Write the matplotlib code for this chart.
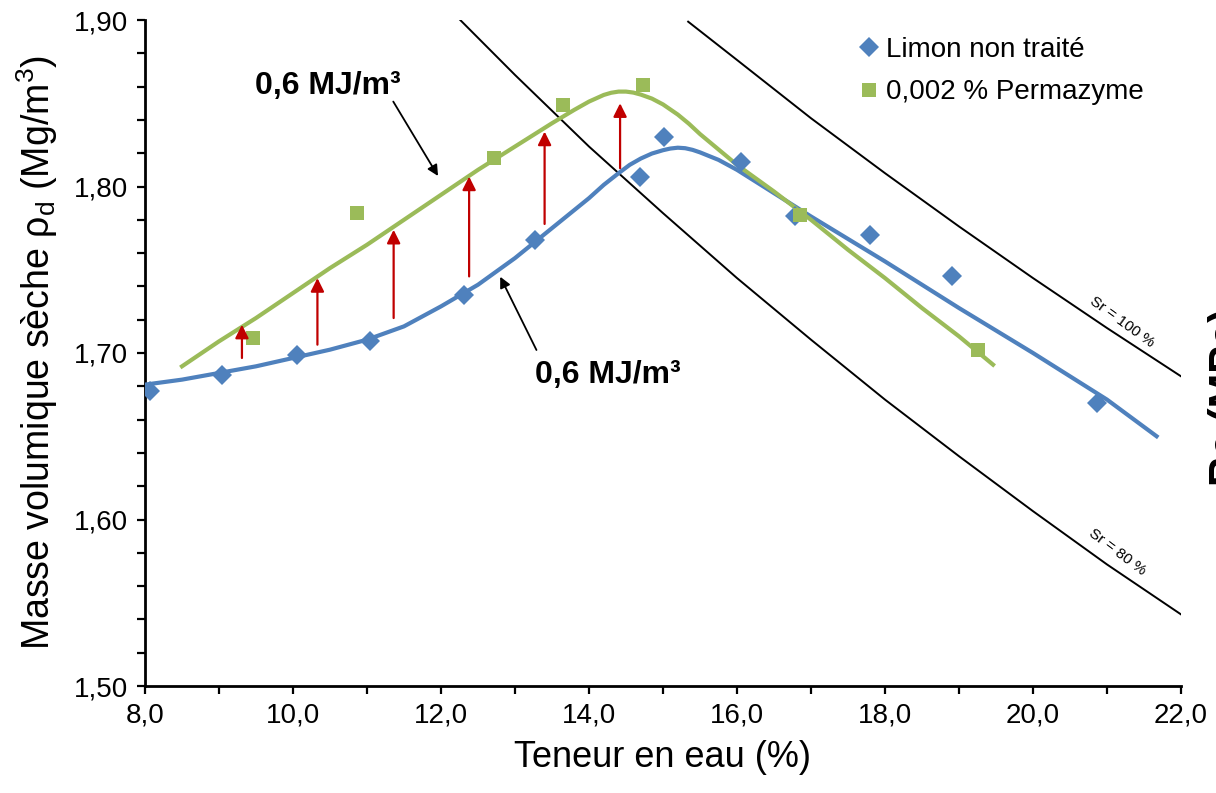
import matplotlib
matplotlib.use("Agg")
import matplotlib.pyplot as plt
from matplotlib.ticker import MultipleLocator

plt.rcParams["font.family"] = ["Liberation Sans", "DejaVu Sans"]

# measured points
w_limon = [8.07, 9.04, 10.05, 11.04, 12.31, 13.27, 14.69, 15.01, 16.06, 16.78, 17.80, 18.91, 20.87]
rho_limon = [1.677, 1.687, 1.699, 1.707, 1.735, 1.768, 1.806, 1.830, 1.815, 1.782, 1.771, 1.746, 1.670]
w_perma = [9.46, 10.87, 12.72, 13.65, 14.73, 16.85, 19.26]
rho_perma = [1.709, 1.784, 1.817, 1.849, 1.861, 1.783, 1.702]

# fitted curves
w_fit_limon = [8.0, 8.5, 9.0, 9.5, 10.0, 10.5, 11.0, 11.5, 12.0, 12.5, 13.0, 13.5, 14.0,
               14.2, 14.4, 14.55, 14.7, 14.85, 15.0, 15.1, 15.2, 15.3, 15.4, 15.5, 15.75,
               16.0, 16.5, 17.0, 18.0, 19.0, 20.0, 21.0, 21.67]
rho_fit_limon = [1.681, 1.684, 1.688, 1.692, 1.697, 1.702, 1.708, 1.716, 1.728, 1.741, 1.757,
                 1.775, 1.793, 1.801, 1.808, 1.813, 1.8168, 1.8198, 1.8218, 1.8228, 1.8233,
                 1.8230, 1.8220, 1.8205, 1.8160, 1.810, 1.796, 1.782, 1.755, 1.727, 1.700,
                 1.672, 1.650]
w_fit_perma = [8.5, 9.0, 9.5, 10.0, 10.5, 11.0, 11.5, 12.0, 12.5, 13.0, 13.5, 13.8, 14.0,
               14.1, 14.2, 14.3, 14.4, 14.5, 14.6, 14.7, 14.85, 15.0, 15.2, 15.35, 15.5,
               16.0, 16.5, 17.0, 17.5, 18.0, 18.5, 19.0, 19.46]
rho_fit_perma = [1.692, 1.707, 1.721, 1.736, 1.751, 1.765, 1.780, 1.795, 1.810, 1.824, 1.838,
                 1.846, 1.851, 1.853, 1.855, 1.8563, 1.8570, 1.8570, 1.8564, 1.8552, 1.8528,
                 1.8493, 1.8432, 1.8377, 1.8315, 1.813, 1.797, 1.780, 1.762, 1.745, 1.727,
                 1.710, 1.693]

# saturation lines
w_sr100 = [15.34, 16.0, 17.0, 18.0, 19.0, 20.0, 21.0, 22.0]
rho_sr100 = [1.899, 1.876, 1.841, 1.808, 1.776, 1.745, 1.715, 1.686]
w_sr80 = [12.26, 13.0, 14.0, 15.0, 16.0, 17.0, 18.0, 19.0, 20.0, 21.0, 22.0]
rho_sr80 = [1.900, 1.867, 1.824, 1.784, 1.745, 1.708, 1.672, 1.638, 1.605, 1.573, 1.543]

# red arrows (gain in density)
arrow_w = [9.31, 10.33, 11.36, 12.38, 13.40, 14.42]
arrow_from = [1.697, 1.705, 1.721, 1.746, 1.7775, 1.811]
arrow_to = [1.717, 1.745, 1.774, 1.806, 1.833, 1.850]

xticks = [8, 10, 12, 14, 16, 18, 20, 22]
xticklabels = ["8,0", "10,0", "12,0", "14,0", "16,0", "18,0", "20,0", "22,0"]
yticks = [1.5, 1.6, 1.7, 1.8, 1.9]
yticklabels = ["1,50", "1,60", "1,70", "1,80", "1,90"]

BLUE = "#4F81BD"
GREEN = "#9BBB59"
RED = "#C00000"

fig = plt.figure(figsize=(12.16, 7.93), dpi=100)
ax = fig.add_axes([145 / 1216, 1 - 686 / 793, (1181 - 145) / 1216, (686 - 20) / 793])

ax.plot(w_sr100, rho_sr100, color="black", lw=1.4, zorder=1)
ax.plot(w_sr80, rho_sr80, color="black", lw=1.4, zorder=1)

ax.plot(w_fit_limon, rho_fit_limon, color=BLUE, lw=3.0, zorder=3, solid_joinstyle="round")
ax.plot(w_fit_perma, rho_fit_perma, color=GREEN, lw=3.0, zorder=3, solid_joinstyle="round")
ax.plot(w_limon, rho_limon, ls="none", marker="D", ms=10.5, color=BLUE, mew=0,
        zorder=4, label="Limon non traité")
ax.plot(w_perma, rho_perma, ls="none", marker="s", ms=10, color=GREEN, mew=0,
        zorder=4, label="0,002 % Permazyme")

for xw, y0, y1 in zip(arrow_w, arrow_from, arrow_to):
    ax.annotate("", xy=(xw, y1), xytext=(xw, y0),
                arrowprops=dict(arrowstyle="-|>", color=RED, lw=1.6,
                                mutation_scale=20, shrinkA=0, shrinkB=0), zorder=5)

black_arrow = dict(arrowstyle="-|>", color="black", lw=1.3, mutation_scale=16,
                   shrinkA=0, shrinkB=0)
ax.annotate("", xy=(11.96, 1.8063), xytext=(11.355, 1.851), arrowprops=black_arrow)
ax.text(10.47, 1.8604, "0,6 MJ/m³", ha="center", va="center",
        fontsize=23, fontweight="bold")
ax.annotate("", xy=(12.80, 1.7458), xytext=(13.29, 1.7018), arrowprops=black_arrow)
ax.text(14.26, 1.6868, "0,6 MJ/m³", ha="center", va="center",
        fontsize=23, fontweight="bold")

ax.text(21.2, 1.7186, "Sr = 100 %", fontsize=11, rotation=-36,
        ha="center", va="center", rotation_mode="anchor")
ax.text(21.14, 1.5805, "Sr = 80 %", fontsize=11, rotation=-37,
        ha="center", va="center", rotation_mode="anchor")

ax.set_xlim(8, 22)
ax.set_ylim(1.5, 1.9)
ax.set_xticks(xticks)
ax.set_xticklabels(xticklabels)
ax.set_yticks(yticks)
ax.set_yticklabels(yticklabels)
ax.xaxis.set_minor_locator(MultipleLocator(1))
ax.yaxis.set_minor_locator(MultipleLocator(0.02))
ax.tick_params(which="both", direction="out", length=6, width=1.6)
ax.tick_params(which="major", labelsize=20, pad=6)
for side in ("top", "right"):
    ax.spines[side].set_visible(False)
for side in ("left", "bottom"):
    ax.spines[side].set_linewidth(2.0)

ax.set_xlabel("Teneur en eau (%)", fontsize=26, labelpad=8)
ax.set_ylabel("Masse volumique sèche ρ$_\\mathregular{d}$ (Mg/m$^\\mathregular{3}$)",
              fontsize=27, labelpad=10)

ax.legend(loc="upper left", bbox_to_anchor=(0.675, 1.0), frameon=False,
          fontsize=20, handlelength=0.6, handletextpad=0.3, labelspacing=0.6,
          borderaxespad=0.3, borderpad=0.3)

# clipped secondary axis title at the right edge
fig.text(1208 / 1216, 0.5, "Rc (MPa)", rotation=90, ha="left", va="center",
         fontsize=30, fontweight="bold")

fig.savefig("out.png", dpi=100)
